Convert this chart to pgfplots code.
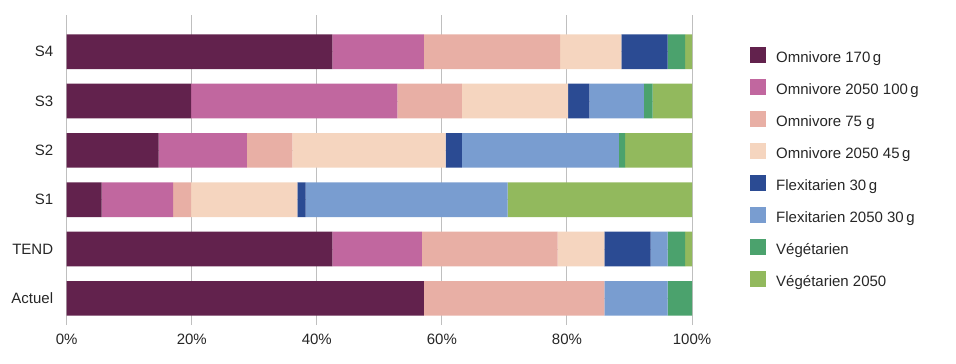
\documentclass[border=0pt]{standalone}
\usepackage{pgfplots}
\pgfplotsset{compat=1.18}
\usepackage{pgfplotstable}
\usepackage{fontspec}
\setmainfont{Liberation Sans}
\definecolor{c1}{HTML}{62224D}
\definecolor{c2}{HTML}{C1679F}
\definecolor{c3}{HTML}{E8AFA5}
\definecolor{c4}{HTML}{F5D5BF}
\definecolor{c5}{HTML}{2B4B93}
\definecolor{c6}{HTML}{799DD0}
\definecolor{c7}{HTML}{4BA26D}
\definecolor{c8}{HTML}{92B95D}
\definecolor{txt}{HTML}{262626}
\definecolor{grid}{HTML}{DCDCDC}
\pgfplotstableread{
y a b c d e f g h
0 57.1 0 28.9 0 0 10.1 3.9 0
1 42.5 14.3 21.7 7.5 7.4 2.7 2.8 1.1
2 5.6 11.4 2.9 17.0 1.3 32.3 0 29.5
3 14.7 14.1 7.3 24.5 2.6 25.1 1.0 10.7
4 19.9 33.0 10.3 17.0 3.4 8.7 1.4 6.3
5 42.5 14.6 21.8 9.8 7.4 0 2.8 1.1
}\data
\begin{document}
\begin{tikzpicture}
\path[use as bounding box] (0,0) rectangle (956bp,364bp);
\begin{axis}[
  at={(66.7bp,39bp)}, anchor=south west,
  scale only axis, width=625.3bp, height=310bp,
  xbar stacked, bar width=34.7bp, bar shift=0pt,
  xmin=0, xmax=100, ymin=-0.54, ymax=5.745,
  xtick={0,20,40,60,80,100},
  xticklabels={0\%,20\%,40\%,60\%,80\%,100\%},
  ytick={0,1,2,3,4,5},
  yticklabels={Actuel,TEND,S1,S2,S3,S4},
  xmajorgrids, major grid style={grid, line width=1bp},
  axis line style={draw=none},
  major tick length=0pt,
  tick label style={font=\fontsize{15bp}{18bp}\selectfont, text=txt, inner sep=0pt},
  xticklabel style={anchor=north, yshift=-9bp},
  yticklabel style={anchor=east, xshift=-13.4bp},
  legend style={at={(1.0928,0.8968)}, anchor=north west, draw=none, fill=none,
    inner sep=0pt, row sep=16bp,
    font=\fontsize{15bp}{18bp}\selectfont, text=txt,
    nodes={inner sep=0pt, text height=15bp, text depth=1bp}},
  legend cell align=left,
  legend image code/.code={\fill[#1] (0bp,-8bp) rectangle (16bp,8bp); \path (26bp,0bp);},
  reverse legend=false,
]
\addplot[fill=c1, draw=none] table[x=a, y=y] {\data};
\addlegendentry{Omnivore 170\,g}
\addplot[fill=c2, draw=none] table[x=b, y=y] {\data};
\addlegendentry{Omnivore 2050 100\,g}
\addplot[fill=c3, draw=none] table[x=c, y=y] {\data};
\addlegendentry{Omnivore 75 g}
\addplot[fill=c4, draw=none] table[x=d, y=y] {\data};
\addlegendentry{Omnivore 2050 45\,g}
\addplot[fill=c5, draw=none] table[x=e, y=y] {\data};
\addlegendentry{Flexitarien 30\,g}
\addplot[fill=c6, draw=none] table[x=f, y=y] {\data};
\addlegendentry{Flexitarien 2050 30\,g}
\addplot[fill=c7, draw=none] table[x=g, y=y] {\data};
\addlegendentry{Végétarien}
\addplot[fill=c8, draw=none] table[x=h, y=y] {\data};
\addlegendentry{Végétarien 2050}
\end{axis}
\end{tikzpicture}
\end{document}
